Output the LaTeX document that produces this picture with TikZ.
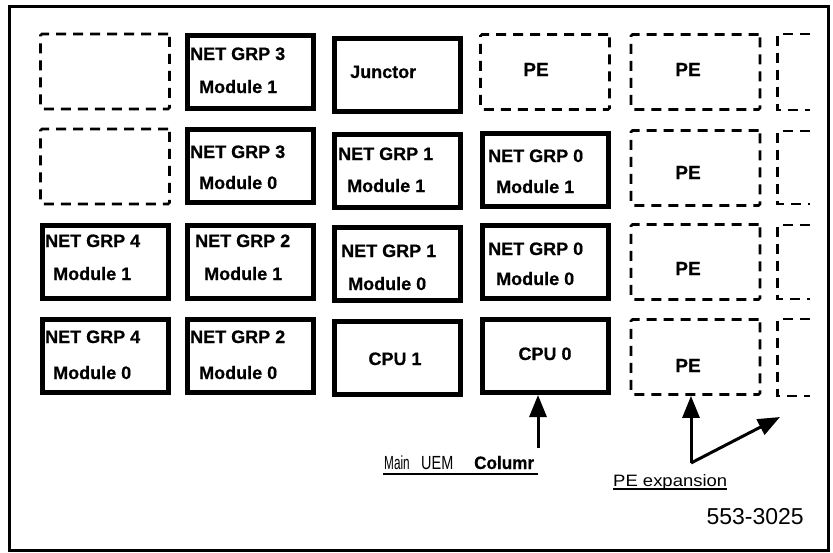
\documentclass[tikz,border=0pt]{standalone}
\usepackage{fontspec}
\setmainfont{Liberation Sans}
\newfontfamily\boxfont{Liberation Sans}[BoldFeatures={FakeBold=0.6}]
\usetikzlibrary{arrows.meta}
\begin{document}
\begin{tikzpicture}[x=1pt,y=-1pt,
  solidbox/.style={draw, line width=5pt, minimum width=126pt, minimum height=73pt, inner sep=0pt},
  dashbox/.style={draw, line width=2.8pt, dash pattern=on 10pt off 7pt, rounded corners=1.5pt, minimum width=129pt, minimum height=75pt, inner sep=0pt},
  openbox/.style={draw, line width=2.8pt, dash pattern=on 10pt off 7pt},
  lbl/.style={font=\boxfont\fontsize{18}{20}\selectfont\bfseries, inner sep=0pt, anchor=base west},
  clbl/.style={lbl, anchor=base},
  pelbl/.style={lbl, anchor=base, font=\boxfont\fontsize{19}{21}\selectfont\bfseries},
  bigarrow/.style={line width=3pt, -{Triangle[width=17pt,length=22pt]}},
  frame/.style={draw, line width=3pt},
  note/.style={anchor=base west, inner sep=0pt, font=\fontsize{19}{21}\selectfont},
]
\useasboundingbox (0,0) rectangle (833,552);
\draw[frame] (9.5,6.5) rectangle (828.5,550);

% row 1
\node[dashbox]  (e11) at (105,71.5) {};
\node[solidbox] (n3m1) at (250.5,71.5) {};
\node[solidbox] (junc) at (397,75) {};
\node[dashbox]  (pe14) at (545,72) {};
\node[dashbox]  (pe15) at (695.5,72) {};
% row 2
\node[dashbox]  (e21) at (105,166.5) {};
\node[solidbox] (n3m0) at (250.5,166) {};
\node[solidbox] (n1m1) at (397,170.5) {};
\node[solidbox] (n0m1) at (545,170) {};
\node[dashbox]  (pe25) at (695.5,168) {};
% row 3
\node[solidbox] (n4m1) at (105,261.5) {};
\node[solidbox] (n2m1) at (250.5,261.5) {};
\node[solidbox] (n1m0) at (397,264) {};
\node[solidbox] (n0m0) at (545,262) {};
\node[dashbox]  (pe35) at (695.5,262) {};
% row 4
\node[solidbox] (n4m0) at (105,356) {};
\node[solidbox] (n2m0) at (250.5,356) {};
\node[solidbox] (cpu1) at (397,358) {};
\node[solidbox] (cpu0) at (545,356) {};
\node[dashbox]  (pe45) at (695.5,357) {};

% partial column 6
\draw[openbox] (810,34) -- (777.5,34) -- (777.5,110) -- (810,110);
\draw[openbox] (810,131) -- (777.5,131) -- (777.5,204) -- (810,204);
\draw[openbox] (810,225) -- (777.5,225) -- (777.5,299) -- (810,299);
\draw[openbox] (810,319) -- (777.5,319) -- (777.5,396) -- (810,396);

% labels
\node[lbl] (t3m1a) at (190,60) {NET GRP 3};
\node[lbl] (t3m1b) at (199,93) {Module 1};
\node[lbl] (tjunc) at (350,78) {Junctor};
\node[pelbl] (tpe14) at (536,76) {PE};
\node[pelbl] (tpe15) at (688,76) {PE};

\node[lbl] (t3m0a) at (190,158) {NET GRP 3};
\node[lbl] (t3m0b) at (199,189) {Module 0};
\node[lbl] (t1m1a) at (338,160) {NET GRP 1};
\node[lbl] (t1m1b) at (347,192) {Module 1};
\node[lbl] (t0m1a) at (488,162) {NET GRP 0};
\node[lbl] (t0m1b) at (496,193) {Module 1};
\node[pelbl] (tpe25) at (688,179) {PE};

\node[lbl] (t4m1a) at (45,247) {NET GRP 4};
\node[lbl] (t4m1b) at (53,280) {Module 1};
\node[lbl] (t2m1a) at (195,247) {NET GRP 2};
\node[lbl] (t2m1b) at (204,280) {Module 1};
\node[lbl] (t1m0a) at (341,257) {NET GRP 1};
\node[lbl] (t1m0b) at (348,290) {Module 0};
\node[lbl] (t0m0a) at (488,255) {NET GRP 0};
\node[lbl] (t0m0b) at (496,285) {Module 0};
\node[pelbl] (tpe35) at (688,275) {PE};

\node[lbl] (t4m0a) at (45,343) {NET GRP 4};
\node[lbl] (t4m0b) at (53,379) {Module 0};
\node[lbl] (t2m0a) at (190,343) {NET GRP 2};
\node[lbl] (t2m0b) at (199,379) {Module 0};
\node[clbl] (tcpu1) at (395,365) {CPU 1};
\node[clbl] (tcpu0) at (545,360) {CPU 0};
\node[pelbl] (tpe45) at (688,372) {PE};

% main UEM column arrow
\coordinate (arrbase) at (538,448);
\draw[bigarrow] (arrbase) -- (arrbase |- cpu0.south);
\node[note] (lmain) at (384,469) {\scalebox{0.62}[1]{Main}};
\node[note] (luem) at (421,469) {\scalebox{0.76}[1]{UEM}};
\node[note, font=\boxfont\fontsize{18}{20}\selectfont\bfseries] (lcol) at (474,469) {\scalebox{0.95}[1]{Columr}};
\coordinate (ul1) at (383,474);
\draw[line width=2.5pt] (ul1) -- (ul1 -| arrbase);

% PE expansion arrows
\coordinate (corner) at (691,463);
\coordinate (diagend) at (780,417);
\draw[bigarrow] (corner) -- (corner |- pe45.south);
\draw[bigarrow] (corner) -- (diagend);
\node[note, font=\fontsize{16.5}{19}\selectfont] (pelbl) at (613,486) {\scalebox{1.12}[1]{PE expansion}};
\draw[line width=2pt] ([yshift=-2.5pt]pelbl.base west) -- ([yshift=-2.5pt]pelbl.base east);

% figure number
\node[anchor=base east, inner sep=0pt, font=\fontsize{23}{25}\selectfont] (fignum) at (804,524) {553-3025};
\end{tikzpicture}
\end{document}
